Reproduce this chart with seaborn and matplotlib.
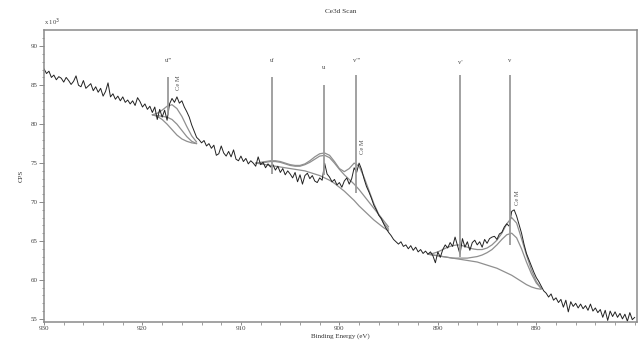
import numpy as np
import pandas as pd
import matplotlib
matplotlib.use("Agg")
import matplotlib.pyplot as plt
import seaborn as sns

# Ce3d XPS scan, binding energy in eV (930 -> 870, 0.25 eV step), counts in x1000 CPS
energy = np.arange(930.0, 869.9, -0.25)
counts = [
    87.1, 86.5, 86.8, 86.0,  # 930
    86.3, 85.7, 86.1, 85.9,
    85.4, 86.0, 85.6, 85.1,
    85.5, 86.2, 85.0, 84.8,
    85.6, 84.6, 84.9, 85.2,
    84.3, 84.8, 84.1, 84.6,  # 925
    83.6, 84.2, 85.3, 83.5,
    83.9, 83.2, 83.6, 83.0,
    83.5, 82.8, 83.1, 82.6,
    83.0, 82.4, 83.4, 82.9,
    82.2, 82.6, 81.9, 82.3,  # 920
    81.5, 82.2, 80.6, 81.9,
    80.9, 81.8, 80.5, 82.6,
    83.3, 82.8, 83.5, 82.7,
    83.0, 82.2, 81.6, 80.9,
    79.9, 79.1, 78.3, 78.0,  # 915
    77.6, 77.9, 77.2, 77.5,
    76.9, 77.3, 76.0, 76.2,
    77.2, 76.3, 75.9, 76.5,
    75.8, 76.7, 75.5, 75.3,
    75.9, 75.2, 75.6, 74.9,  # 910
    75.3, 75.0, 74.6, 75.8,
    74.8, 75.1, 74.4, 74.9,
    74.5, 74.8, 74.1, 74.6,
    73.8, 74.3, 73.5, 74.0,
    73.6, 73.1, 73.8, 72.6,  # 905
    73.5, 72.3, 73.4, 73.7,
    73.0, 73.4, 72.7, 72.5,
    73.1, 72.8, 75.0, 73.6,
    73.2, 72.6, 72.9, 72.2,
    72.5, 71.9, 72.7, 73.1,  # 900
    72.3, 73.0, 74.4, 73.8,
    75.0, 74.2, 73.0, 72.0,
    71.3, 70.5, 69.6, 69.0,
    68.3, 67.9, 67.2, 66.6,
    66.1, 65.7, 65.2, 64.9,  # 895
    64.6, 64.9, 64.3, 64.5,
    64.0, 64.4, 63.8, 64.2,
    63.6, 63.9, 63.4, 63.7,
    63.3, 63.6, 63.1, 62.2,
    63.6, 62.9, 63.9, 64.5,  # 890
    64.1, 64.8, 64.3, 65.5,
    64.4, 63.3, 65.3, 64.2,
    64.9, 63.8, 64.8, 65.1,
    64.5, 64.9, 64.2, 65.2,
    64.7, 65.3, 65.5, 65.6,  # 885
    65.2, 65.9, 66.1, 66.8,
    67.2, 66.9, 68.8, 69.0,
    68.2, 67.1, 66.0, 64.6,
    63.4, 62.6, 61.8, 61.0,
    60.3, 59.8, 59.2, 58.6,  # 880
    58.3, 57.8, 58.2, 57.4,
    57.7, 57.1, 57.5, 56.5,
    57.4, 55.9, 57.2, 56.6,
    57.0, 56.4, 56.9, 56.3,
    56.7, 56.1, 56.9, 56.0,  # 875
    56.4, 55.8, 56.2, 55.2,
    56.1, 54.8, 56.0, 55.3,
    55.9, 55.2, 55.7, 55.0,
    55.6, 54.7, 55.8, 54.9,
    55.2,                    # 870
]

# fitted curves, region A (u''')
fit_a_energy = [919.0, 918.5, 918.0, 917.5, 917.0, 916.5, 916.0, 915.5, 915.0, 914.5]
fit_a_bg = [81.2, 81.0, 80.6, 80.0, 79.3, 78.6, 78.1, 77.8, 77.6, 77.5]
fit_a_comp = [81.2, 81.1, 81.0, 80.9, 80.6, 80.0, 79.2, 78.4, 77.8, 77.5]
fit_a_env = [81.2, 81.4, 81.8, 82.3, 82.5, 82.0, 81.0, 79.7, 78.5, 77.7]

# region B (u', u, v''')
fit_b_energy = [908.5, 908.0, 907.5, 907.0, 906.5, 906.0, 905.5, 905.0, 904.5, 904.0,
                903.5, 903.0, 902.5, 902.0, 901.5, 901.0, 900.5, 900.0, 899.5, 899.0,
                898.5, 898.0, 897.5, 897.0, 896.5, 896.0, 895.5, 895.0]
fit_b_bg = [75.0, 74.9, 74.8, 74.7, 74.6, 74.5, 74.4, 74.3, 74.2, 74.1,
            74.0, 73.8, 73.6, 73.4, 73.1, 72.8, 72.4, 71.9, 71.4, 70.8,
            70.2, 69.5, 68.9, 68.3, 67.7, 67.2, 66.7, 66.3]
fit_b_comp = [75.0, 75.0, 75.1, 75.2, 75.2, 75.1, 74.9, 74.7, 74.6, 74.6,
              74.8, 75.1, 75.5, 75.9, 76.0, 75.7, 75.0, 74.2, 73.5, 72.9,
              72.3, 71.6, 70.8, 70.0, 69.2, 68.4, 67.6, 66.8]
fit_b_env = [75.0, 75.1, 75.2, 75.3, 75.3, 75.2, 75.0, 74.8, 74.7, 74.7,
             74.9, 75.3, 75.8, 76.2, 76.3, 76.0, 75.2, 74.3, 73.9, 74.3,
             75.0, 74.6, 73.2, 71.5, 69.8, 68.4, 67.3, 66.5]

# region C (v', v)
fit_c_energy = [891.0, 890.5, 890.0, 889.5, 889.0, 888.5, 888.0, 887.5, 887.0, 886.5,
                886.0, 885.5, 885.0, 884.5, 884.0, 883.5, 883.0, 882.5, 882.0, 881.5,
                881.0, 880.5, 880.0, 879.5]
fit_c_bg = [63.3, 63.2, 63.1, 63.0, 62.9, 62.8, 62.7, 62.6, 62.5, 62.4,
            62.3, 62.1, 61.9, 61.7, 61.5, 61.2, 60.9, 60.6, 60.2, 59.8,
            59.4, 59.1, 58.9, 58.8]
fit_c_comp = [63.3, 63.2, 63.1, 63.0, 62.9, 62.8, 62.8, 62.8, 62.8, 62.9,
              63.0, 63.2, 63.5, 63.9, 64.5, 65.2, 65.8, 66.0, 65.4, 64.0,
              62.3, 60.8, 59.6, 58.9]
fit_c_env = [63.3, 63.4, 63.6, 63.9, 64.2, 64.4, 64.5, 64.4, 64.2, 64.0,
             63.9, 63.9, 64.1, 64.5, 65.1, 66.0, 67.2, 68.0, 67.3, 65.3,
             63.2, 61.3, 59.8, 58.9]

# peak markers
peak_labels = ["u'''", "u'", "u", "v'''", "v'", "v"]
peak_energy = [917.4, 906.8, 901.6, 898.3, 887.7, 882.7]
peak_top = [86.0, 86.0, 85.0, 86.3, 86.3, 86.3]
peak_bottom = [81.2, 73.6, 73.5, 71.2, 63.0, 64.5]
label_y = [87.9, 87.9, 87.0, 87.8, 87.6, 87.9]

ce_energy = [916.6, 897.9, 882.2]
ce_y = [85.3, 77.1, 70.6]

sns.set_style("ticks")
plt.rcParams['font.family'] = ['Liberation Serif', 'DejaVu Serif']

fig = plt.figure(figsize=(6.38, 3.4), dpi=100)
ax = fig.add_axes([0.069, 0.053, 0.929, 0.859])

spec = pd.DataFrame({'BE': energy, 'CPS': counts})
fit_col = '#8f8f8f'
for e, curves in [(fit_a_energy, [fit_a_bg, fit_a_comp, fit_a_env]),
                  (fit_b_energy, [fit_b_bg, fit_b_comp, fit_b_env]),
                  (fit_c_energy, [fit_c_bg, fit_c_comp, fit_c_env])]:
    for c in curves:
        sns.lineplot(x=e, y=c, ax=ax, color=fit_col, linewidth=0.9, sort=False)

sns.lineplot(data=spec, x='BE', y='CPS', ax=ax, color='#222222', linewidth=0.7, sort=False)

ax.vlines(peak_energy, peak_bottom, peak_top, color='#9a9a9a', linewidth=1.3)
for lab, e, y in zip(peak_labels, peak_energy, label_y):
    ax.text(e, y, lab, ha='center', va='bottom', fontsize=4.8, color='#444444')
for e, y in zip(ce_energy, ce_y):
    ax.text(e, y, 'Ce M', rotation=90, ha='left', va='center', fontsize=4.8, color='#555555')

ax.set_xlim(930, 869.8)
ax.set_ylim(54.6, 92.1)
ax.set_xticks([930, 920, 910, 900, 890, 880])
ax.set_xticks(np.arange(930, 869, -2), minor=True)
ax.set_yticks([55, 60, 65, 70, 75, 80, 85, 90])
ax.set_yticks(np.arange(55, 92, 1), minor=True)
ax.tick_params(axis='both', which='major', length=3.5, width=0.6, color='#777777',
               labelsize=5, labelcolor='#444444', pad=1)
ax.tick_params(axis='x', which='major', length=2.5, pad=0.5)
ax.tick_params(axis='both', which='minor', length=1.8, width=0.5, color='#777777')
for s in ax.spines.values():
    s.set_color('#8a8a8a')
    s.set_linewidth(1.1)

ax.set_xlabel('Binding Energy (eV)', fontsize=5, color='#333333', labelpad=0)
ax.xaxis.set_label_coords(0.5, -0.037)
ax.set_ylabel('CPS', fontsize=5, color='#333333', labelpad=5)
ax.set_title('Ce3d Scan', fontsize=5.2, color='#333333', pad=12)
ax.text(0.0, 1.005, 'x 10$^3$', transform=ax.transAxes, fontsize=4.8,
        color='#444444', ha='left', va='bottom')

fig.savefig('out.png', dpi=100)
